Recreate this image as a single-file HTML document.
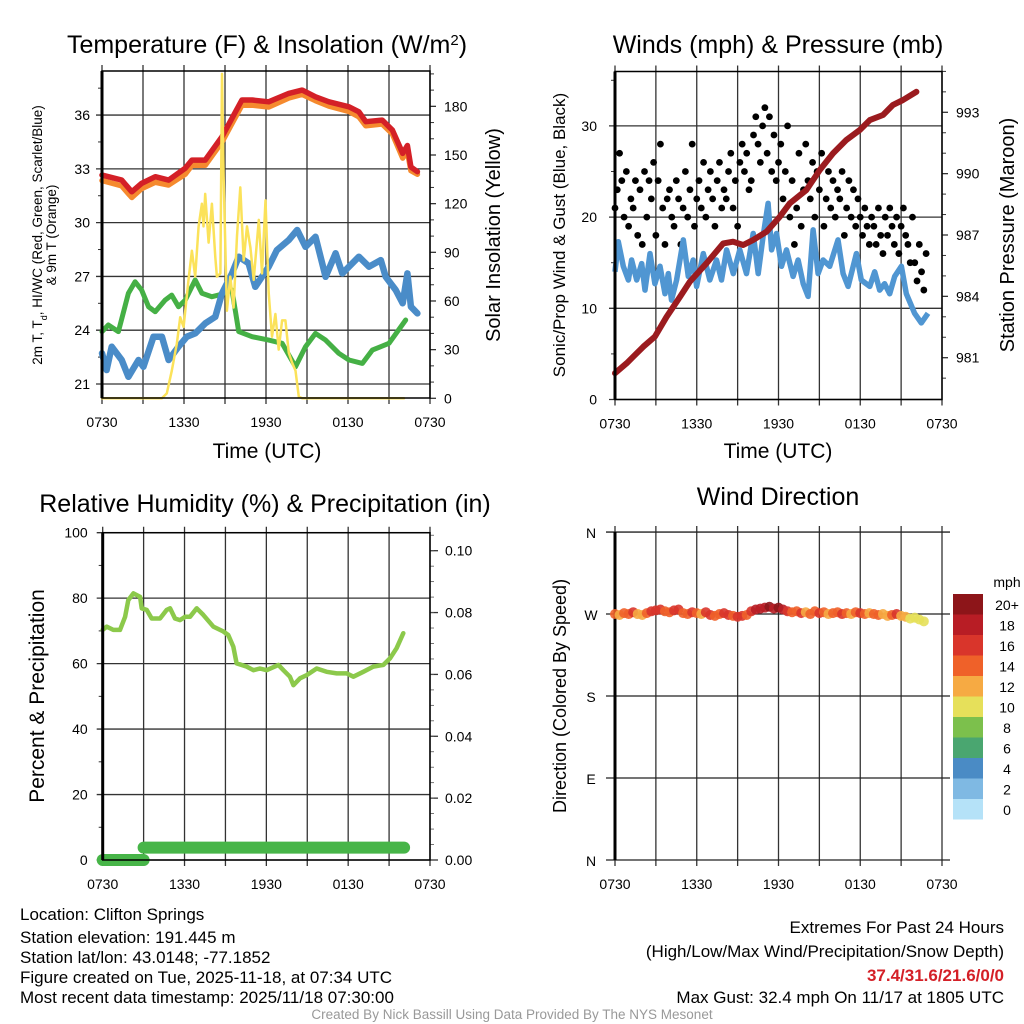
<!DOCTYPE html>
<html><head><meta charset="utf-8"><style>
html,body{margin:0;padding:0;background:#fff;}
svg{display:block;font-family:"Liberation Sans",Arial,sans-serif;}
</style></head><body>
<svg id="chart" width="1024" height="1024" viewBox="0 0 1024 1024" xmlns="http://www.w3.org/2000/svg">
<g id="layer"></g>
</svg>
<script>
// ---------- Panel 1 data ----------
const tempHours = [0,1.44,2.18,2.9,3.9,4.87,6.09,6.58,7.55,8.78,10.24,10.98,12.2,13.67,14.65,15.62,16.6,18.07,18.8,19.3,20.5,21.25,22,22.35,22.6,23.08];
const temp2m = [32.65,32.37,31.72,32.19,32.56,32.37,33.03,33.49,33.49,34.79,36.84,36.84,36.74,37.21,37.39,37.02,36.74,36.46,36.18,35.63,35.72,35.16,33.86,34.3,33.1,32.84];
const temp9m = [32.35,32.05,31.4,31.9,32.25,32.1,32.7,33.2,33.2,34.5,36.55,36.55,36.45,36.95,37.15,36.8,36.5,36.2,35.9,35.4,35.5,34.95,33.6,34.0,32.9,32.7];
const dewHours = [0,0.34,0.71,1.44,1.93,2.67,3.03,3.77,4.38,4.87,5.6,6.21,6.82,7.55,8.29,8.78,9.51,10,10.73,11.22,12.2,12.8,13.67,14.28,14.89,15.62,16.36,17.09,17.58,18.8,19.54,20.4,20.76,21.49,22,22.35,22.6,23.08];
const dewVals = [22.71,21.78,23.08,22.34,21.4,22.34,21.96,23.64,23.64,22.34,23.08,23.64,23.82,24.38,24.75,26.06,27.17,28.1,27.73,26.42,27.54,28.47,29.03,29.59,28.65,29.21,26.98,28.29,27.17,28.1,27.54,27.91,26.98,26.24,25.5,27.17,25.31,24.94];
const hiwcHours = [0,0.46,1.2,1.93,2.42,2.9,3.4,3.89,4.62,5.1,5.6,6.09,6.82,7.31,8.04,8.53,9.51,10,10.98,12.2,13.18,14.16,14.89,15.62,16.36,17.33,18.07,19.05,19.78,21,22.22];
const hiwcVals = [23.92,24.29,23.92,26.06,26.7,26.24,25.31,25.03,25.68,25.96,25.31,25.68,26.8,26.06,25.87,25.96,26.24,23.92,23.64,23.45,23.27,21.96,23.08,23.82,23.45,22.71,22.34,22.15,22.89,23.27,24.57];
const solarHours = [0,4.38,4.74,5.11,5.48,5.72,5.97,6.33,6.58,6.82,7.07,7.31,7.43,7.55,7.8,8.04,8.29,8.41,8.66,8.78,8.9,9.14,9.39,9.63,9.88,10.12,10.37,10.61,10.86,11.1,11.47,11.71,11.96,12.2,12.44,12.69,12.93,13.18,13.42,13.67,13.91,14.16,14.4,14.65,22.1];
const solarVals = [0,0,3,17,34,50,44,73,91,75,106,120,106,126,96,120,87,75,77,200,137,54,75,56,100,130,85,106,93,73,110,77,122,65,38,52,30,48,48,28,22,17,1,0,0];
const tempTicks = [21,24,27,30,33,36];
const solarTicks = [0,30,60,90,120,150,180];
const timeTickHours = [0,6,12,18,24];
const timeTickLabels = ["0730","1330","1930","0130","0730"];
// ---------- Panel 2 data ----------
const windHours = [0,0.24,0.61,0.98,1.22,1.59,1.96,2.2,2.57,2.93,3.3,3.67,3.91,4.15,4.52,5.01,5.38,5.74,5.99,6.48,6.96,7.45,7.82,8.19,8.68,9.16,9.65,10.14,10.51,10.87,11.24,11.49,11.85,12.22,12.59,13.07,13.44,13.81,14.17,14.54,14.91,15.27,15.76,16.37,16.74,17.11,17.72,18.08,18.7,19.06,19.43,19.79,20.16,20.53,21.02,21.38,21.99,22.48,22.97];
const windVals = [14.0,17.3,14.6,13.1,15.3,13.1,14.9,12.0,16.0,12.7,14.6,11.6,13.8,10.9,13.1,17.5,13.5,15.3,12.4,16.0,13.1,15.3,13.1,16.4,13.8,16.4,13.8,18.2,13.8,17.9,21.5,16.4,18.2,14.6,16.4,13.5,15.3,12.7,11.3,18.6,13.8,15.3,14.6,17.5,13.8,12.4,16.0,13.1,12.4,14.0,12.0,12.7,11.6,13.5,14.6,11.6,9.45,8.4,9.45];
const gustVals = [21,23,27,24,20,25, 19,22,21,24,18,23, 17,25,20,24,22,26, 18,24,28,21,17,22, 23,20,19,24,22,17, 21,25,20,23,28,19, 22,24,21,26,20,23, 25,22,19,24,26,21, 23,22,25,27,21,24, 19,26,28,25,27,23, 24,29,31,28,26,30, 32,27,31,25,29,24, 26,28,22,25,30,20, 24,17,21,27,19,23, 28,24,22,26,20,25, 23,27,19,22,25,21, 24,20,23,22,25,18, 21,24,20,23,19,22, 20,18,21,19,17,20, 19,17,21,18,16,20, 18,21,19,17,20,16, 19,21,18,17,15,20, 15,13,17,14,12,16];
const presHours = [0,0.86,2.08,2.93,3.79,4.77,5.5,6.72,7.94,8.67,9.41,10.14,11.12,12.1,12.83,14.05,15.03,16,16.98,17.96,18.7,19.67,20.4,21.14,22.12];
const presVals = [980.24,980.73,981.54,982.03,983.0,983.98,984.72,985.62,986.59,986.67,986.51,986.76,987.16,987.9,988.55,989.2,990.18,990.99,991.65,992.13,992.62,992.87,993.36,993.6,994.0];
const windTicks = [0,10,20,30];
const presTicks = [981,984,987,990,993];
// ---------- Panel 3 data ----------
const rhHours = [0,0.29,0.78,1.27,1.64,1.88,2.25,2.74,2.86,3.23,3.59,4.2,4.69,4.94,5.3,5.67,6.04,6.4,6.89,7.38,8.11,8.85,9.21,9.58,9.82,10.56,11.05,11.53,12.02,12.88,13.25,13.73,13.98,14.47,14.96,15.69,16.42,17.16,17.89,18.38,19.11,19.84,20.58,21.07,21.55,22.04];
const rhVals = [70.3,71.3,70.3,70.3,74.3,79.4,81.5,80.4,76.9,76.4,73.8,73.8,76.4,76.9,73.8,73.3,74.3,74.3,76.9,74.9,71.3,69.8,68.7,65.2,60.1,59.1,58.0,58.5,58.0,59.6,58.0,56.0,53.4,55.5,56.5,58.5,57.5,57.0,57.0,56.0,57.5,59.1,59.6,61.6,64.7,69.3];
const precipHours = [0,3,3,22.1];
const precipVals = [0,0,0.004,0.004];
const rhTicks = [0,20,40,60,80,100];
const precipTicks = [0,0.02,0.04,0.06,0.08,0.10];
// ---------- Panel 4 data ----------
const dirVals = [270,269,271,270,272,270,269,271,273, 274,275,273,272,274,275, 271,270,272,271,270,272,269,268,270,271,269,268, 267,268,269, 273,275,276,277,278,276,277,275,273, 272,273,271,272,270,273,271,272,270,271,272,270,271,270,272,271,270,271, 270,269,270,268,269,270, 268,267,265,266,264,262];
const dirSpeeds = [14,13,15,14,16,13,12,15,17, 17,16,15,14,16,17, 15,14,16,15,13,16,17,15,14,16,17,15, 16,17,14, 17,18,19,18,20,19,21,18,17, 15,14,16,13,15,14,16,15,13,14,15,17,14,13,15,16,14,13, 14,15,13,12,14,16, 13,12,11,10,11,10];
const dirTicks = [0,90,180,270,360];
const dirLabels = ["N","E","S","W","N"];
const speedBinLabels = ["0","2","4","6","8","10","12","14","16","18","20+"];
const speedBinColors = ["#b5e2f8","#7fb9e3","#4a8bc5","#4aa670","#7cc04c","#e6e05a","#f6aa43","#ef6129","#d9352b","#b81d25","#8d1519"];

const NS="http://www.w3.org/2000/svg";
const layer=document.getElementById('layer');
function mk(tag,attrs,parent){const e=document.createElementNS(NS,tag);for(const k in attrs)e.setAttribute(k,attrs[k]);(parent||layer).appendChild(e);return e;}
function txt(s,x,y,size,anchor,parent,extra){const e=mk('text',Object.assign({x:x,y:y,'font-size':size,'text-anchor':anchor||'middle',fill:'#000'},extra||{}),parent);e.textContent=s;return e;}
function pts(hs,vs,sx,sy){return hs.map((h,i)=>sx(h).toFixed(1)+','+sy(vs[i]).toFixed(1)).join(' ');}

function timeAxis(g,x0,x1,yTop,yBot){
  const sx=h=>x0+(x1-x0)*h/24;
  for(let h=0;h<=24;h+=3){
    const l=mk('line',{x1:sx(h),x2:sx(h),y1:yTop-6,y2:yBot+6,stroke:'#333','stroke-width':1.3},g);
    
    
  }
  timeTickHours.forEach((h,i)=>{
    const t=txt(timeTickLabels[i],sx(h),yBot+29,14,'middle',g);
    
    
  });
  return sx;
}

// ===== Panel 1 =====
(function(){
  const g=mk('g',{});
  
  
  const x0=102,x1=430,yT=71,yB=398;
  const sx=timeAxis(g,x0,x1,yT,yB);
  const sy=t=>384-(t-21)*17.93;
  const ss=s=>398.3-s*1.622;
  tempTicks.forEach(t=>{
    const l=mk('line',{x1:x0-6,x2:x1,y1:sy(t),y2:sy(t),stroke:'#333','stroke-width':1.3},g);
    
    
    const tl=txt(String(t),x0-12,sy(t)+5,14,'end',g);
    
    
  });
  for(let t=22.5;t<38.5;t+=3){mk('line',{x1:x0-4,x2:x0,y1:sy(t),y2:sy(t),stroke:'#333','stroke-width':1},g);}
  solarTicks.forEach(s=>{
    mk('line',{x1:x1,x2:x1+6,y1:ss(s),y2:ss(s),stroke:'#333','stroke-width':1.3},g);
    const tl=txt(String(s),x1+14,ss(s)+5,14,'start',g);
    
    
  });
  for(let s=10;s<=200;s+=10){if(s%30)mk('line',{x1:x1,x2:x1+4,y1:ss(s),y2:ss(s),stroke:'#333','stroke-width':1},g);}
  const series=[[hiwcHours,hiwcVals,'#45b045',5,sy,'heat-index-line'],[dewHours,dewVals,'#4a8cc8',6.5,sy,'dewpoint-line'],[tempHours,temp9m,'#f58a2e',5.5,sy,'temp-9m-line'],[tempHours,temp2m,'#d42027',5.5,sy,'temp-2m-line'],[solarHours,solarVals,'#fbe25a',2.5,ss,'solar-line']];
  series.forEach(s=>{
    const p=mk('polyline',{points:pts(s[0],s[1],sx,s[4]),fill:'none',stroke:s[2],'stroke-width':s[3],'stroke-linejoin':'round','stroke-linecap':'round'},g);
    
    
  });
  mk('rect',{x:x0,y:yT,width:x1-x0,height:yB-yT,fill:'none',stroke:'#000','stroke-width':1.5},g);
  mk('line',{x1:x0,x2:x0,y1:yT,y2:yB,stroke:'#000','stroke-width':3},g);
  const ti=mk('text',{x:267,y:53,'font-size':25,'text-anchor':'middle'},g);
  
  
  ti.innerHTML='Temperature (F) &amp; Insolation (W/m<tspan baseline-shift="super" font-size="15">2</tspan>)';
  const xt=txt('Time (UTC)',267,458,21,'middle',g);
  
  
  const yl=mk('text',{transform:'translate(42,235) rotate(-90)','font-size':13.5,'text-anchor':'middle'},g);
  
  
  yl.innerHTML='2m T, T<tspan baseline-shift="sub" font-size="9">d</tspan>, HI/WC (Red, Green, Scarlet/Blue)';
  const yl2=txt('& 9m T (Orange)',0,0,13.5,'middle',g,{transform:'translate(56,235) rotate(-90)'});
  
  
  const yr=txt('Solar Insolation (Yellow)',0,0,20,'middle',g,{transform:'translate(500,235) rotate(-90)'});
  
  
})();

// ===== Panel 2 =====
(function(){
  const g=mk('g',{});
  
  
  const x0=615,x1=942,yT=71.5,yB=399.5;
  const sx=timeAxis(g,x0,x1,yT,yB);
  const sw=w=>399.5-w*9.12;
  const sp=p=>112.3-(p-993)*20.45;
  windTicks.forEach(w=>{
    const l=mk('line',{x1:x0-6,x2:x1,y1:sw(w),y2:sw(w),stroke:'#333','stroke-width':1.3},g);
    
    
    const tl=txt(String(w),x0-18,sw(w)+5,14,'end',g);
    
    
  });
  for(let w=5;w<36;w+=10){mk('line',{x1:x0-4,x2:x0,y1:sw(w),y2:sw(w),stroke:'#333','stroke-width':1},g);}
  presTicks.forEach(p=>{
    mk('line',{x1:x1,x2:x1+6,y1:sp(p),y2:sp(p),stroke:'#333','stroke-width':1.3},g);
    const tl=txt(String(p),x1+14,sp(p)+5,14,'start',g);
    
    
  });
  for(let p=980;p<=995;p++){if(p%3)mk('line',{x1:x1,x2:x1+4,y1:sp(p),y2:sp(p),stroke:'#333','stroke-width':1},g);}
  gustVals.forEach((v,i)=>{
    const c=mk('circle',{cx:sx(i/6),cy:sw(v),r:3.4,fill:'#000'},g);
    
    
  });
  const wl=mk('polyline',{points:pts(windHours,windVals,sx,sw),fill:'none',stroke:'#5096d2','stroke-width':5.5,'stroke-linejoin':'round'},g);
  
  
  const pl=mk('polyline',{points:pts(presHours,presVals,sx,sp),fill:'none',stroke:'#9b1b1f','stroke-width':6,'stroke-linejoin':'round','stroke-linecap':'round'},g);
  
  
  mk('rect',{x:x0,y:yT,width:x1-x0,height:yB-yT,fill:'none',stroke:'#000','stroke-width':1.5},g);
  mk('line',{x1:x0,x2:x0,y1:yT,y2:yB,stroke:'#000','stroke-width':3},g);
  const ti=txt('Winds (mph) & Pressure (mb)',778,53,25,'middle',g);
  
  
  const xt=txt('Time (UTC)',778,458,21,'middle',g);
  
  
  const yl=txt('Sonic/Prop Wind & Gust (Blue, Black)',0,0,17,'middle',g,{transform:'translate(565,235) rotate(-90)'});
  
  
  const yr=txt('Station Pressure (Maroon)',0,0,20,'middle',g,{transform:'translate(1014,235) rotate(-90)'});
  
  
})();

// ===== Panel 3 =====
(function(){
  const g=mk('g',{});
  
  
  const x0=102.7,x1=430,yT=532.7,yB=860;
  const sx=timeAxis(g,x0,x1,yT,yB);
  const sr=r=>860-r*3.273;
  const sq=p=>860-p*3093;
  rhTicks.forEach(r=>{
    const l=mk('line',{x1:x0-6,x2:x1,y1:sr(r),y2:sr(r),stroke:'#333','stroke-width':1.3},g);
    
    
    const tl=txt(String(r),x0-15,sr(r)+5,14,'end',g);
    
    
  });
  for(let r=10;r<100;r+=20){mk('line',{x1:x0-4,x2:x0,y1:sr(r),y2:sr(r),stroke:'#333','stroke-width':1},g);}
  precipTicks.forEach(p=>{
    mk('line',{x1:x1,x2:x1+8,y1:sq(p),y2:sq(p),stroke:'#333','stroke-width':1.3},g);
    const tl=txt(p.toFixed(2),x1+15,sq(p)+5,14,'start',g);
    
    
  });
  for(let p=0.005;p<0.106;p+=0.005){mk('line',{x1:x1,x2:x1+4,y1:sq(p),y2:sq(p),stroke:'#555','stroke-width':0.8},g);}
  for(let i=0;i<precipHours.length-1;i++){
    if(precipVals[i]!==precipVals[i+1])continue;
    const s=mk('line',{x1:sx(precipHours[i]),x2:sx(precipHours[i+1]),y1:sq(precipVals[i]),y2:sq(precipVals[i+1]),stroke:'#47b548','stroke-width':12,'stroke-linecap':'round'},g);
    
    
  }
  const rl=mk('polyline',{points:pts(rhHours,rhVals,sx,sr),fill:'none',stroke:'#8cc94b','stroke-width':4.5,'stroke-linejoin':'round','stroke-linecap':'round'},g);
  
  
  mk('rect',{x:x0,y:yT,width:x1-x0,height:yB-yT,fill:'none',stroke:'#000','stroke-width':1.5},g);
  mk('line',{x1:x0,x2:x0,y1:yT,y2:yB,stroke:'#000','stroke-width':3},g);
  const ti=txt('Relative Humidity (%) & Precipitation (in)',265,512,25,'middle',g);
  
  
  const yl=txt('Percent & Precipitation',0,0,21,'middle',g,{transform:'translate(44,696) rotate(-90)'});
  
  
})();

// ===== Panel 4 =====
(function(){
  const g=mk('g',{});
  
  
  const x0=615,x1=942,yT=532,yB=860;
  const sx=timeAxis(g,x0,x1,yT,yB);
  const sd=d=>860-d*0.911;
  dirTicks.forEach((d,i)=>{
    const l=mk('line',{x1:x0-9,x2:x1+8,y1:sd(d),y2:sd(d),stroke:'#222','stroke-width':1.3},g);
    
    
    const tl=txt(dirLabels[i],591,sd(d)+6,14,'middle',g);
    
    
  });
  mk('line',{x1:x0,x2:x0,y1:yT,y2:yB,stroke:'#000','stroke-width':3},g);
  function binColor(s){let b=Math.floor(s/2);if(b>10)b=10;if(b<0)b=0;return speedBinColors[b];}
  dirVals.forEach((d,i)=>{
    const c=mk('circle',{cx:sx(i/3),cy:sd(d),r:5,fill:binColor(dirSpeeds[i]),'fill-opacity':0.9},g);
    
    
  });
  const leg=mk('g',{},g);
  
  
  speedBinColors.forEach((c,i)=>{
    const y=799-i*20.5;
    const r=mk('rect',{x:953,y:y,width:30,height:20.5,fill:c},leg);
    
    
    const t=txt(speedBinLabels[i],1007,y+16,14,'middle',leg);
    
    
  });
  const u=txt('mph',1007,587,14,'middle',leg);
  
  
  const ti=txt('Wind Direction',778,505,25,'middle',g);
  
  
  const yl=txt('Direction (Colored By Speed)',0,0,18,'middle',g,{transform:'translate(566,696) rotate(-90)'});
  
  
})();

// ===== Footer =====
(function(){
  const g=mk('g',{});
  
  
  const left=["Location: Clifton Springs","Station elevation: 191.445 m","Station lat/lon: 43.0148; -77.1852","Figure created on Tue, 2025-11-18, at 07:34 UTC","Most recent data timestamp: 2025/11/18 07:30:00"];
  const ly=[920,943,963,983,1003];
  left.forEach((s,i)=>{const t=txt(s,20,ly[i],17,'start',g);});
  const r1=txt('Extremes For Past 24 Hours',1004,933,17,'end',g);
  
  
  const r2=txt('(High/Low/Max Wind/Precipitation/Snow Depth)',1004,957,17,'end',g);
  
  
  const r3=txt('37.4/31.6/21.6/0/0',1004,981,17,'end',g,{fill:'#d42027','font-weight':'bold'});
  
  
  const r4=txt('Max Gust: 32.4 mph On 11/17 at 1805 UTC',1004,1003,17,'end',g);
  
  
  const cr=txt('Created By Nick Bassill Using Data Provided By The NYS Mesonet',512,1019,13.5,'middle',g,{fill:'#999'});
  
  
})();
</script>
</body></html>
